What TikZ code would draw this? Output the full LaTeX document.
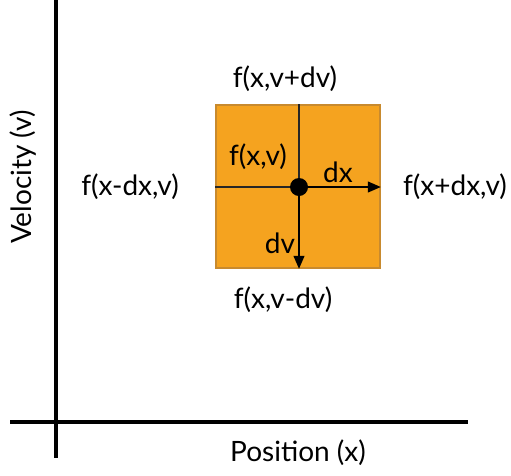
\documentclass[tikz,border=0pt]{standalone}
\usepackage{fontspec}
\setmainfont{Lato}
\usetikzlibrary{arrows.meta}
\definecolor{boxfill}{HTML}{F5A31F}
\definecolor{boxedge}{HTML}{C88A2E}
\tikzset{
  axis/.style={line width=3.5pt},
  grid/.style={line width=1.2pt, black!85},
  arr/.style={line width=1.2pt, -{Triangle[length=13pt,width=11pt]}},
  lbl/.style={font=\fontsize{28}{32}\selectfont, inner sep=0pt},
}
\begin{document}
\begin{tikzpicture}[x=1pt,y=-1pt]
\useasboundingbox (0,0) rectangle (511,475);
\fill[white] (0,0) rectangle (511,475);
% axes
\coordinate (vtop) at (56,0);
\coordinate (vbot) at (56,458);
\coordinate (hl) at (10,422);
\coordinate (hr) at (468,422);
\draw[axis] (vtop) -- (vbot);
\draw[axis] (hl) -- (hr);
% box
\node[draw=boxedge, fill=boxfill, line width=1.5pt, minimum width=164pt, minimum height=163pt, inner sep=0pt] (box) at (298,186.5) {};
\coordinate (c) at (299,187);
\draw[grid] (box.west |- c) -- (c);
\draw[grid] (box.north -| c) -- (c);
\draw[arr] (c) -- (box.east |- c);
\draw[arr] (c) -- (box.south -| c);
\node[circle, fill=black, minimum size=18pt, inner sep=0pt] (dot) at (c) {};
% labels
\node[lbl] (top) at (285,79) {f(x,v+dv)};
\node[lbl] (left) at (130,187) {f(x-dx,v)};
\node[lbl] (right) at (455,187) {f(x+dx,v)};
\node[lbl] (bot) at (283,300) {f(x,v-dv)};
\node[lbl] (fxv) at (258,157) {f(x,v)};
\node[lbl] (dx) at (338,172) {dx};
\node[lbl] (dv) at (280,243) {dv};
\node[lbl, rotate=90] (vel) at (23,177) {Velocity (v)};
\node[lbl] (pos) at (298,453) {Position (x)};
\end{tikzpicture}
\end{document}
